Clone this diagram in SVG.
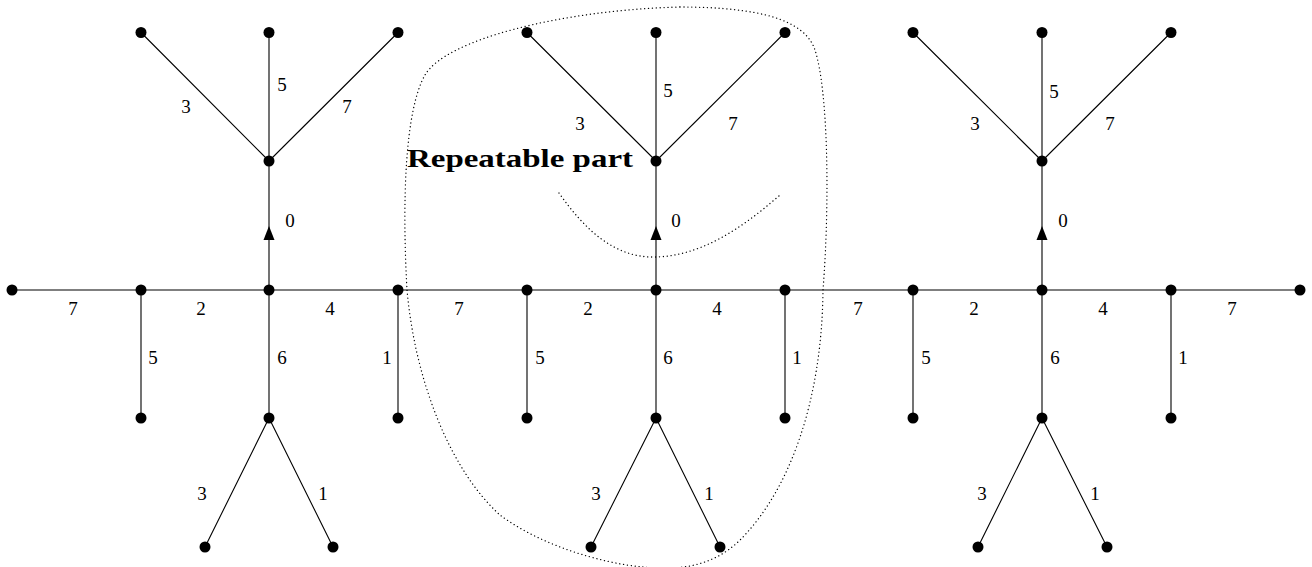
<svg xmlns="http://www.w3.org/2000/svg" width="1312" height="567" viewBox="0 0 1312 567">
<style>
.e{stroke:#000;stroke-width:1.1;fill:none}
.n{fill:#000}
.l{font-family:"Liberation Serif",serif;font-size:19px;text-anchor:middle;fill:#000}
.d{stroke:#000;stroke-width:1.3;fill:none;stroke-dasharray:0.1 3.8;stroke-linecap:round}
.t{font-family:"Liberation Serif",serif;font-size:26px;font-weight:bold;fill:#000}
</style>
<rect width="1312" height="567" fill="#fff"/>
<g id="connectors">
<path class="e" d="M12 290H1300"/>
<path class="e" d="M141 290V418M398 290V418M269 290V418M269 418L205 547M269 418L333 547M269 290V161M269 161L141 32.5M269 161V32.5M269 161L398 32.5"/>
<polygon class="n" points="269,226 263.5,240 274.5,240"/>
<path class="e" d="M527 290V418M785 290V418M656 290V418M656 418L591 547M656 418L720 547M656 290V161M656 161L527 32.5M656 161V32.5M656 161L785 32.5"/>
<polygon class="n" points="656,226 650.5,240 661.5,240"/>
<path class="e" d="M913 290V418M1171 290V418M1042 290V418M1042 418L978 547M1042 418L1107 547M1042 290V161M1042 161L913 32.5M1042 161V32.5M1042 161L1171 32.5"/>
<polygon class="n" points="1042,226 1036.5,240 1047.5,240"/>
</g>
<g id="labels">
<text class="l" x="73" y="314.5">7</text>
<text class="l" x="201" y="314.5">2</text>
<text class="l" x="330" y="314.5">4</text>
<text class="l" x="459" y="314.5">7</text>
<text class="l" x="588" y="314.5">2</text>
<text class="l" x="717" y="314.5">4</text>
<text class="l" x="858" y="314.5">7</text>
<text class="l" x="974" y="314.5">2</text>
<text class="l" x="1103" y="314.5">4</text>
<text class="l" x="1232" y="314.5">7</text>
<text class="l" x="153" y="363.5">5</text>
<text class="l" x="282" y="363.5">6</text>
<text class="l" x="387" y="363.5">1</text>
<text class="l" x="540" y="363.5">5</text>
<text class="l" x="668" y="363.5">6</text>
<text class="l" x="797" y="363.5">1</text>
<text class="l" x="926" y="363.5">5</text>
<text class="l" x="1055" y="363.5">6</text>
<text class="l" x="1183" y="363.5">1</text>
<text class="l" x="202" y="499.5">3</text>
<text class="l" x="323" y="499.5">1</text>
<text class="l" x="596" y="499.5">3</text>
<text class="l" x="709" y="499.5">1</text>
<text class="l" x="982" y="499.5">3</text>
<text class="l" x="1095" y="499.5">1</text>
<text class="l" x="290" y="226.5">0</text>
<text class="l" x="676" y="226.5">0</text>
<text class="l" x="1063" y="226.5">0</text>
<text class="l" x="186" y="113">3</text>
<text class="l" x="282" y="90.5">5</text>
<text class="l" x="347" y="113">7</text>
<text class="l" x="580" y="129.5">3</text>
<text class="l" x="668" y="97">5</text>
<text class="l" x="733" y="129.5">7</text>
<text class="l" x="975" y="130">3</text>
<text class="l" x="1054" y="98">5</text>
<text class="l" x="1110" y="130">7</text>
</g>
<g id="n-end-left"><circle class="n" cx="12" cy="290" r="5.5"/></g>
<g id="n-end-right"><circle class="n" cx="1300" cy="290" r="5.5"/></g>
<g id="u1-l"><circle class="n" cx="141" cy="290" r="5.5"/></g>
<g id="u1-c"><circle class="n" cx="269" cy="290" r="5.5"/></g>
<g id="u1-r"><circle class="n" cx="398" cy="290" r="5.5"/></g>
<g id="u1-lb"><circle class="n" cx="141" cy="418" r="5.5"/></g>
<g id="u1-cb"><circle class="n" cx="269" cy="418" r="5.5"/></g>
<g id="u1-rb"><circle class="n" cx="398" cy="418" r="5.5"/></g>
<g id="u1-b1"><circle class="n" cx="205" cy="547" r="5.5"/></g>
<g id="u1-b2"><circle class="n" cx="333" cy="547" r="5.5"/></g>
<g id="u1-t"><circle class="n" cx="269" cy="161" r="5.5"/></g>
<g id="u1-t1"><circle class="n" cx="141" cy="32.5" r="5.5"/></g>
<g id="u1-t2"><circle class="n" cx="269" cy="32.5" r="5.5"/></g>
<g id="u1-t3"><circle class="n" cx="398" cy="32.5" r="5.5"/></g>
<g id="u2-l"><circle class="n" cx="527" cy="290" r="5.5"/></g>
<g id="u2-c"><circle class="n" cx="656" cy="290" r="5.5"/></g>
<g id="u2-r"><circle class="n" cx="785" cy="290" r="5.5"/></g>
<g id="u2-lb"><circle class="n" cx="527" cy="418" r="5.5"/></g>
<g id="u2-cb"><circle class="n" cx="656" cy="418" r="5.5"/></g>
<g id="u2-rb"><circle class="n" cx="785" cy="418" r="5.5"/></g>
<g id="u2-b1"><circle class="n" cx="591" cy="547" r="5.5"/></g>
<g id="u2-b2"><circle class="n" cx="720" cy="547" r="5.5"/></g>
<g id="u2-t"><circle class="n" cx="656" cy="161" r="5.5"/></g>
<g id="u2-t1"><circle class="n" cx="527" cy="32.5" r="5.5"/></g>
<g id="u2-t2"><circle class="n" cx="656" cy="32.5" r="5.5"/></g>
<g id="u2-t3"><circle class="n" cx="785" cy="32.5" r="5.5"/></g>
<g id="u3-l"><circle class="n" cx="913" cy="290" r="5.5"/></g>
<g id="u3-c"><circle class="n" cx="1042" cy="290" r="5.5"/></g>
<g id="u3-r"><circle class="n" cx="1171" cy="290" r="5.5"/></g>
<g id="u3-lb"><circle class="n" cx="913" cy="418" r="5.5"/></g>
<g id="u3-cb"><circle class="n" cx="1042" cy="418" r="5.5"/></g>
<g id="u3-rb"><circle class="n" cx="1171" cy="418" r="5.5"/></g>
<g id="u3-b1"><circle class="n" cx="978" cy="547" r="5.5"/></g>
<g id="u3-b2"><circle class="n" cx="1107" cy="547" r="5.5"/></g>
<g id="u3-t"><circle class="n" cx="1042" cy="161" r="5.5"/></g>
<g id="u3-t1"><circle class="n" cx="913" cy="32.5" r="5.5"/></g>
<g id="u3-t2"><circle class="n" cx="1042" cy="32.5" r="5.5"/></g>
<g id="u3-t3"><circle class="n" cx="1171" cy="32.5" r="5.5"/></g>
<g id="repeatable-part">
<path class="d" d="M680 7C760 7 805 20 815 50C828 90 830 200 823 290C822 400 790 490 740 540C710 570 670 570 643 567C600 563 540 545 500 515C450 470 415 380 407 290C402 200 405 110 425 75C445 40 560 10 680 7Z"/>
<path class="d" d="M559 193C585 230 615 258 655 257C700 256 740 230 780 195"/>
<text class="t" x="407" y="167" textLength="226" lengthAdjust="spacingAndGlyphs">Repeatable part</text>
</g>
</svg>
